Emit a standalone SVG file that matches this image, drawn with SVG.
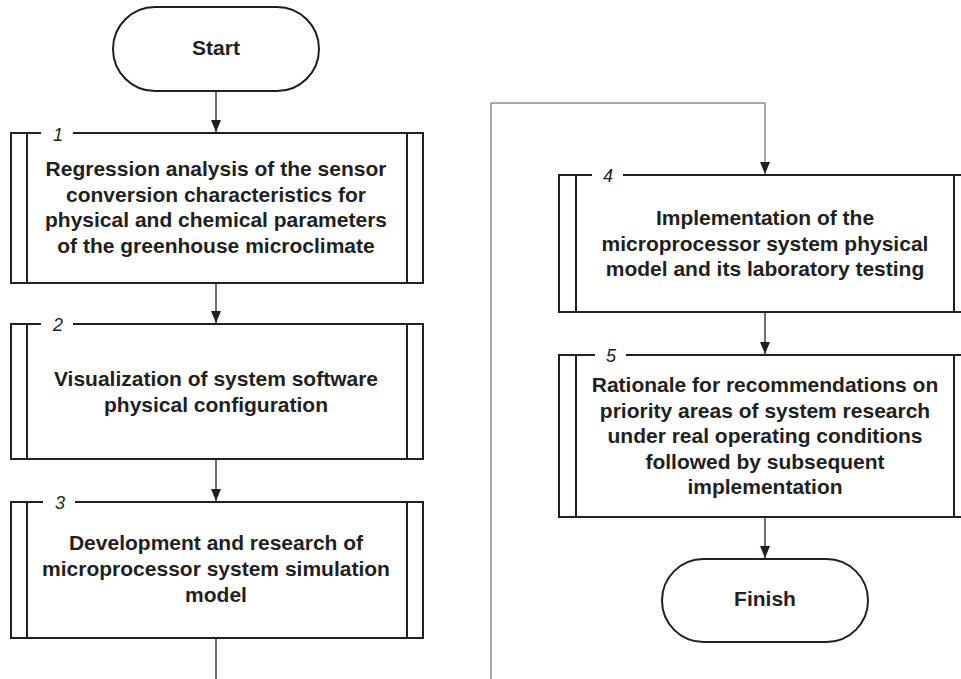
<svg xmlns="http://www.w3.org/2000/svg" width="961" height="679" viewBox="0 0 961 679">
<style>
.box{fill:#fff;stroke:#231f20;stroke-width:2}
.term{fill:#fff;stroke:#231f20;stroke-width:2}
.in{stroke:#231f20;stroke-width:2}
.t{font-family:"Liberation Sans",Arial,sans-serif;font-weight:bold;font-size:21px;fill:#231f20;text-anchor:middle}
.n{font-family:"Liberation Sans",Arial,sans-serif;font-style:italic;font-size:18px;fill:#231f20;text-anchor:middle}
.c{fill:none;stroke:#231f20;stroke-width:1.3}
.lp{fill:none;stroke:#555;stroke-width:1}
</style>
<defs>
<marker id="ah" viewBox="0 0 12 10" refX="12" refY="5" markerWidth="12" markerHeight="10" markerUnits="userSpaceOnUse" orient="auto">
<path d="M0,0 L12,5 L0,10 Z" fill="#231f20"/>
</marker>
</defs>
<rect width="961" height="679" fill="#fff"/>
<g id="start">
<rect class="term" x="113" y="7" width="206" height="84" rx="42"/>
<text class="t" x="216" y="55">Start</text>
</g>
<g id="step1">
<rect x="11" y="133" width="412" height="150" fill="#fff"/>
<path class="box" d="M73,133 H423 V283 H11 V133 H41"/>
<line class="in" x1="27" y1="133" x2="27" y2="283"/>
<line class="in" x1="407" y1="133" x2="407" y2="283"/>
<text class="n" x="58" y="141">1</text>
<text class="t" x="216" y="176">Regression analysis of the sensor</text>
<text class="t" x="216" y="201.6">conversion characteristics for</text>
<text class="t" x="216" y="227.2">physical and chemical parameters</text>
<text class="t" x="216" y="252.8">of the greenhouse microclimate</text>
</g>
<g id="step2">
<rect x="11" y="324" width="412" height="135" fill="#fff"/>
<path class="box" d="M73,324 H423 V459 H11 V324 H41"/>
<line class="in" x1="27" y1="324" x2="27" y2="459"/>
<line class="in" x1="407" y1="324" x2="407" y2="459"/>
<text class="n" x="58" y="331">2</text>
<text class="t" x="216" y="386">Visualization of system software</text>
<text class="t" x="216" y="412">physical configuration</text>
</g>
<g id="step3">
<rect x="11" y="502" width="412" height="136" fill="#fff"/>
<path class="box" d="M75,502 H423 V638 H11 V502 H43"/>
<line class="in" x1="27" y1="502" x2="27" y2="638"/>
<line class="in" x1="407" y1="502" x2="407" y2="638"/>
<text class="n" x="60" y="509">3</text>
<text class="t" x="216" y="550">Development and research of</text>
<text class="t" x="216" y="576">microprocessor system simulation</text>
<text class="t" x="216" y="602">model</text>
</g>
<g id="step4">
<rect x="559" y="175" width="412" height="137" fill="#fff"/>
<path class="box" d="M623,175 H971 V312 H559 V175 H592"/>
<line class="in" x1="576" y1="175" x2="576" y2="312"/>
<line class="in" x1="954" y1="175" x2="954" y2="312"/>
<text class="n" x="608" y="182">4</text>
<text class="t" x="765" y="225">Implementation of the</text>
<text class="t" x="765" y="250.5">microprocessor system physical</text>
<text class="t" x="765" y="276">model and its laboratory testing</text>
</g>
<g id="step5">
<rect x="559" y="355" width="412" height="162" fill="#fff"/>
<path class="box" d="M626,355 H971 V517 H559 V355 H595"/>
<line class="in" x1="576" y1="355" x2="576" y2="517"/>
<line class="in" x1="954" y1="355" x2="954" y2="517"/>
<text class="n" x="611" y="362">5</text>
<text class="t" x="765" y="392">Rationale for recommendations on</text>
<text class="t" x="765" y="417.6">priority areas of system research</text>
<text class="t" x="765" y="443.2">under real operating conditions</text>
<text class="t" x="765" y="468.8">followed by subsequent</text>
<text class="t" x="765" y="494.4">implementation</text>
</g>
<g id="finish">
<rect class="term" x="662" y="559" width="206" height="83" rx="41.5"/>
<text class="t" x="765" y="606">Finish</text>
</g>
<g id="connectors">
<line class="c" x1="216" y1="92" x2="216" y2="132" marker-end="url(#ah)"/>
<line class="c" x1="216" y1="284" x2="216" y2="323" marker-end="url(#ah)"/>
<line class="c" x1="216" y1="460" x2="216" y2="501" marker-end="url(#ah)"/>
<line class="c" x1="216" y1="639" x2="216" y2="679"/>
<polyline class="lp" points="491,679 491,103 765,103 765,174" marker-end="url(#ah)"/>
<line class="c" x1="765" y1="313" x2="765" y2="354" marker-end="url(#ah)"/>
<line class="c" x1="765" y1="518" x2="765" y2="558" marker-end="url(#ah)"/>
</g>
</svg>
